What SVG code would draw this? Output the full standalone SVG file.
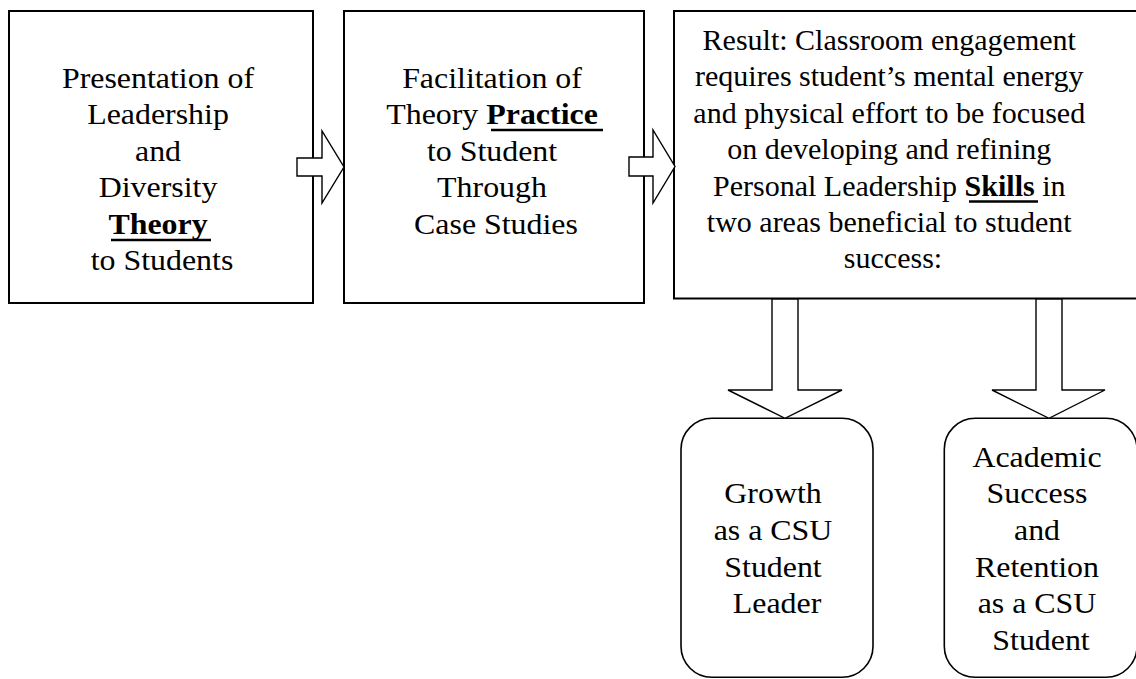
<svg xmlns="http://www.w3.org/2000/svg" width="1136" height="679" viewBox="0 0 1136 679">
<style>
.box{fill:#fff;stroke:#000;stroke-width:2}
.rbox{fill:#fff;stroke:#000;stroke-width:1.6}
.arr{fill:#fff;stroke:#000;stroke-width:1.4;stroke-linejoin:miter}
.t{font-family:"Liberation Serif","Times New Roman",serif;fill:#000;text-anchor:middle}
.s29{font-size:29px}
.s30{font-size:30px}
.b{font-weight:bold}
.ul{stroke:#000;stroke-width:2.6}
</style>
<rect width="1136" height="679" fill="#fff"/>
<g id="node-theory">
<rect class="box" x="9" y="11" width="304" height="292"/>
<text class="t s29" transform="translate(162 0) scale(1.1 1)">
<tspan x="0" y="88">Presentation of</tspan>
<tspan x="0" y="124.5">Leadership</tspan>
<tspan x="0" y="161">and</tspan>
<tspan x="0" y="197.5">Diversity</tspan>
<tspan x="0" y="234" class="b">Theory</tspan>
<tspan x="0" y="270.5">to Students</tspan>
</text>
<line class="ul" x1="111" y1="240" x2="211" y2="240"/>
</g>
<g id="node-practice">
<rect class="box" x="344" y="11" width="300" height="292"/>
<text class="t s29" transform="translate(496 0) scale(1.1 1)">
<tspan x="0" y="88">Facilitation of</tspan>
<tspan x="0" y="124.5">Theory <tspan class="b">Practice</tspan></tspan>
<tspan x="0" y="161">to Student</tspan>
<tspan x="0" y="197.5">Through</tspan>
<tspan x="0" y="234">Case Studies</tspan>
</text>
<line class="ul" x1="491" y1="130" x2="603" y2="130"/>
</g>
<g id="node-result">
<rect class="box" x="674" y="11" width="470" height="287.5"/>
<text class="t s30">
<tspan x="893" y="50">Result: Classroom engagement</tspan>
<tspan x="893" y="86.4">requires student’s mental energy</tspan>
<tspan x="893" y="122.8">and physical effort to be focused</tspan>
<tspan x="893" y="159.2">on developing and refining</tspan>
<tspan x="893" y="195.6">Personal Leadership <tspan class="b">Skills</tspan> in</tspan>
<tspan x="893" y="232">two areas beneficial to student</tspan>
<tspan x="893" y="268.4">success:</tspan>
</text>
<line class="ul" x1="969" y1="201.5" x2="1038" y2="201.5"/>
</g>
<g id="node-growth">
<rect class="rbox" x="681" y="418.3" width="192" height="259" rx="31" ry="31"/>
<text class="t s29" transform="translate(777 0) scale(1.1 1)">
<tspan x="0" y="503.3">Growth</tspan>
<tspan x="0" y="540">as a CSU</tspan>
<tspan x="0" y="576.7">Student</tspan>
<tspan x="0" y="613.3">Leader</tspan>
</text>
</g>
<g id="node-academic">
<rect class="rbox" x="944.3" y="418.3" width="192.7" height="259" rx="31" ry="31"/>
<text class="t s29" transform="translate(1041 0) scale(1.1 1)">
<tspan x="0" y="466.7">Academic</tspan>
<tspan x="0" y="503.3">Success</tspan>
<tspan x="0" y="540">and</tspan>
<tspan x="0" y="576.7">Retention</tspan>
<tspan x="0" y="613.3">as a CSU</tspan>
<tspan x="0" y="650">Student</tspan>
</text>
</g>
<g id="connectors">
<polygon class="arr" points="297,158 322,158 322,131 344,167 322,203 322,176 297,176"/>
<polygon class="arr" points="629,157 653,157 653,130 675,166.5 653,203 653,176 629,176"/>
<polygon class="arr" points="772,299 798,299 798,390 842,390 785,418.3 728,390 772,390"/>
<polygon class="arr" points="1036,299 1062,299 1062,390 1105,390 1049,418.3 992,390 1036,390"/>
</g>
</svg>
